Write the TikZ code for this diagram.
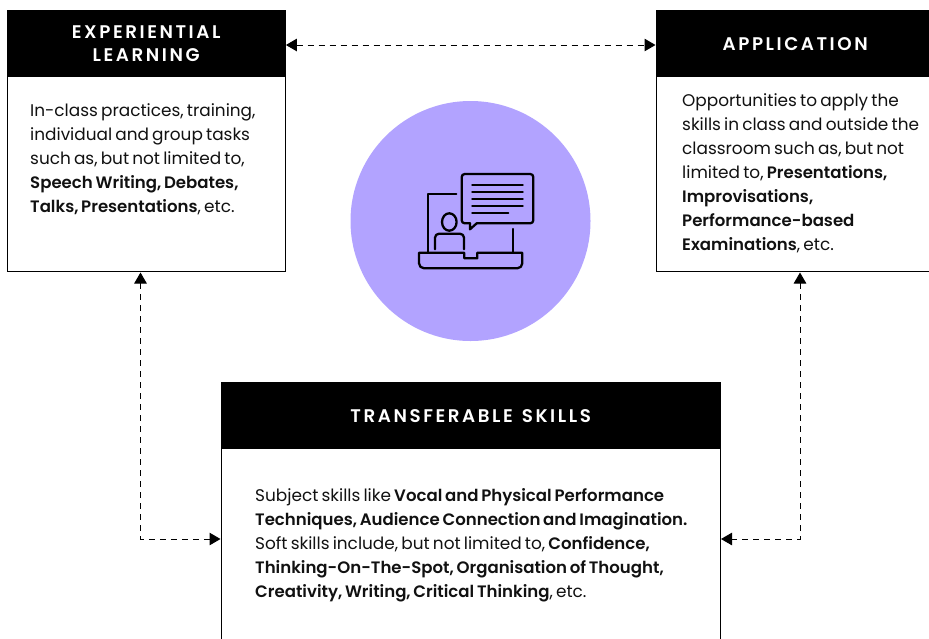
\documentclass[tikz,border=0pt]{standalone}
\usepackage{fontspec}
\setmainfont{Poppins}[WordSpace=0.7,BoldFont={Poppins SemiBold},BoldFeatures={Scale=0.98}]
\newfontfamily\headfont{Poppins SemiBold}[LetterSpace=14,WordSpace=1.3]
\usetikzlibrary{arrows.meta}
\definecolor{lav}{HTML}{B2A3FF}
\definecolor{ink}{HTML}{111111}
\tikzset{
  box/.style={draw=black,line width=1pt,fill=white,inner sep=0pt,anchor=north west},
  head/.style={fill=black,inner sep=0pt,anchor=north west,text=white,align=center,font=\fontsize{18.3}{23.5}\selectfont\headfont},
  body/.style={inner sep=0pt,anchor=north west,align=left,text=ink,font=\fontsize{16.9}{24}\selectfont},
  link/.style={dash pattern=on 6pt off 5pt,line width=1pt,{Triangle[length=11pt,width=12.5pt]}-{Triangle[length=11pt,width=12.5pt]},shorten >=0.5pt,shorten <=0.5pt},
  icon/.style={line width=2.3pt,line cap=round,line join=round}
}
\begin{document}
\begin{tikzpicture}[x=1pt,y=-1pt]
\clip (0,0) rectangle (929,638);
\node[box,minimum width=277.5pt,minimum height=261pt] (lbox) at (7,10) {};
\node[box,minimum width=290pt,minimum height=261pt] (rbox) at (656,10) {};
\node[box,minimum width=498.5pt,minimum height=280pt] (sbox) at (221,382) {};
\node[head,minimum width=278pt,minimum height=67pt] (lhead) at (7,10) {EXPERIENTIAL\\LEARNING};
\node[head,minimum width=278pt,minimum height=67pt] (rhead) at (656,10) {APPLICATION};
\node[head,minimum width=499pt,minimum height=67pt] (shead) at (221,382) {TRANSFERABLE SKILLS};
\node[body] (ltext) at (30,103) {In-class practices, training,\\individual and group tasks\\such as, but not limited to,\\\textbf{Speech Writing, Debates,}\\\textbf{Talks, Presentations}, etc.};
\node[body] (rtext) at (682,93) {Opportunities to apply the\\skills in class and outside the\\classroom such as, but not\\limited to, \textbf{Presentations,}\\\textbf{Improvisations,}\\\textbf{Performance-based}\\\textbf{Examinations}, etc.};
\node[body] (stext) at (255,488) {Subject skills like \textbf{Vocal and Physical Performance}\\\textbf{Techniques, Audience Connection and Imagination.}\\Soft skills include, but not limited to, \textbf{Confidence,}\\\textbf{Thinking-On-The-Spot, Organisation of Thought,}\\\textbf{Creativity, Writing, Critical Thinking}, etc.};
\node[circle,fill=lav,minimum size=240pt,inner sep=0pt] (disc) at (470.5,221) {};
\coordinate (topy) at (0,45);
\coordinate (lx) at (140.5,0);
\coordinate (rx) at (800,0);
\coordinate (lowy) at (0,539);
\draw[link] (lhead.east |- topy) -- (rhead.west |- topy);
\draw[link] (lbox.south -| lx) |- (sbox.west |- lowy);
\draw[link] (rbox.south -| rx) |- (sbox.east |- lowy);
% icon
\draw[icon,rounded corners=3pt] (476.7,223.3) -- (533.3,223.3) -- (533.3,174) -- (461.7,174) -- (461.7,223.3) -- (470,223.3);
\draw[icon] (470,223.3) -- (470,229.3) -- (476.7,223.3);
\foreach \yy in {184.7,191.7,198.7,205.7}{\draw[icon] (472.3,\yy) -- (522.7,\yy);}
\draw[icon] (472.3,212.7) -- (508.3,212.7);
\draw[icon] (456.3,194.3) -- (428,194.3) -- (428,252.7);
\draw[icon] (513,229) -- (513,252.7);
\draw[icon] (464.3,252.7) -- (419,252.7) [rounded corners=5pt] -- (419,268.3) -- (522.3,268.3) [sharp corners] -- (522.3,252.7) -- (477.3,252.7) -- (477.3,258.3) -- (464.3,258.3) -- cycle;
\draw[icon] (449.3,222) ellipse[x radius=7.3pt,y radius=8.7pt];
\draw[icon,rounded corners=4pt] (435,249.3) -- (435,233.7) -- (464,233.7) -- (464,249.3);
\end{tikzpicture}
\end{document}
